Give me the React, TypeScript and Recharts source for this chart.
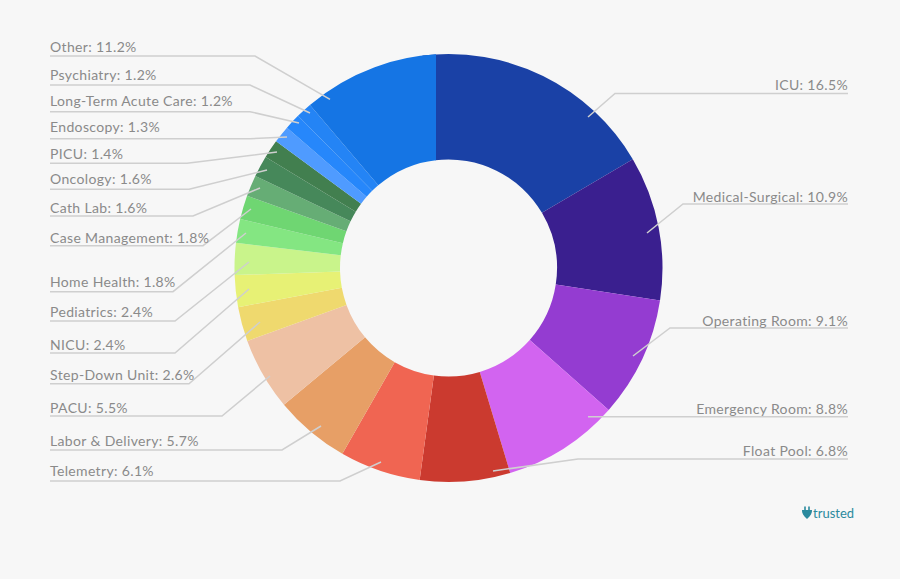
import React from "react";
import { PieChart, Pie, Sector } from "recharts";

const categories = ["ICU","Medical-Surgical","Operating Room","Emergency Room","Float Pool","Telemetry","Labor & Delivery","PACU","Step-Down Unit","NICU","Pediatrics","Home Health","Case Management","Cath Lab","Oncology","PICU","Endoscopy","Long-Term Acute Care","Psychiatry","Other"];
const shares = [16.5,10.9,9.1,8.8,6.8,6.1,5.7,5.5,2.6,2.4,2.4,1.8,1.8,1.6,1.6,1.4,1.3,1.2,1.2,11.2];
const colors = ["#1a41a6","#3a1f8f","#943cd1","#d264f0","#cb3a2f","#f06552","#e79f66","#eec1a4","#efd96e","#e7f175","#c9f48b","#84e682","#6fd672","#66ad75","#46885a","#427f4f","#4f9bff","#2687fb","#2484f5","#1575e4"];

// Annotation layout: [slice x, slice y, elbow x, rule y, far x, text centre y]
const leaders: number[][] = [
  [588,117,615,93.5,848,84],
  [647,233,683,204,848,196],
  [633,356,670,328,848,320],
  [588,416.7,588,416.7,848,408],
  [493,471,578,459,848,450],
  [381,462,340,481,50,470],
  [321,426,282,450,50,440],
  [270,376,222,416,50,407],
  [260,322,189,383.7,50,374.5],
  [249,289,175,353,50,344],
  [249,262,175,321,50,311.5],
  [246,233,173,291.7,50,281],
  [251,209,203,245.7,50,237],
  [260,188,193,216,50,207],
  [267,170,189,189.3,50,178],
  [277,152,187,163.3,50,153],
  [287,137,250,138.7,50,126],
  [299,123,250,111.7,50,100],
  [310,113,250,85,50,74],
  [330,99.3,255,56,50,46],
];

const rows = categories.map((name, i) => ({ name, value: shares[i], fill: colors[i] }));
const CX = 448.5, CY = 268, SEAM_X = 436, LAST = categories.length - 1;
const FONT = "Lato, sans-serif";

function Slice(p: any) {
  const { index, cx, cy, innerRadius, outerRadius, startAngle, endAngle, fill } = p;
  const common = { cx, cy, innerRadius, outerRadius, fill, stroke: "none" };
  if (index === 0) return <Sector {...common} startAngle={startAngle + 7} endAngle={endAngle} />;
  if (index === LAST) return (
    <g>
      <defs><clipPath id="seamClip"><rect x={0} y={0} width={SEAM_X} height={579} /></clipPath></defs>
      <g clipPath="url(#seamClip)"><Sector {...common} startAngle={startAngle} endAngle={endAngle} /></g>
    </g>
  );
  return <Sector {...common} startAngle={startAngle} endAngle={endAngle} />;
}

function Callout(p: any) {
  const i = p.index;
  const [sx, sy, ex, ry, fx, ty] = leaders[i];
  const right = fx > sx;
  return (
    <g>
      <polyline points={`${sx},${sy} ${ex},${ry} ${fx},${ry}`} fill="none" stroke="#cfcfcf" strokeWidth={1.5} />
      <text x={fx} y={ty} textAnchor={right ? "end" : "start"} dominantBaseline="central" fontFamily={FONT} fontSize={14} fill="#8a8a8a" letterSpacing={0.35}>
        {`${categories[i]}: ${shares[i].toFixed(1)}%`}
      </text>
    </g>
  );
}

export default function App() {
  return (
    <div style={{ position: "fixed", inset: 0, background: "#f7f7f7", overflow: "hidden" }}>
      <div style={{ position: "absolute", left: 0, top: 0, width: 900, height: 579 }}>
        <PieChart width={900} height={579} margin={{ top: 0, right: 0, bottom: 0, left: 0 }}>
          <Pie data={rows} dataKey="value" nameKey="name" cx={CX} cy={CY} innerRadius={108.5} outerRadius={214}
            startAngle={90} endAngle={-270} paddingAngle={0} stroke="none" shape={Slice} label={Callout} labelLine={false} isAnimationActive={false} />
        </PieChart>
        <svg width={12} height={14} viewBox="0 0 12 14" style={{ position: "absolute", left: 801, top: 506 }}>
          <path d="M1 4h10c.3 3-1.5 6-5 9C2.500 10 .7 7 1 4z" fill="#2b8a9e" />
          <rect x={3.2} y={0.5} width={1.6} height={4} fill="#2b8a9e" />
          <rect x={7.2} y={0.5} width={1.6} height={4} fill="#2b8a9e" />
        </svg>
        <div style={{ position: "absolute", left: 813, top: 505, fontFamily: FONT, fontSize: 13, lineHeight: "16px", color: "#2b8a9e" }}>trusted</div>
      </div>
    </div>
  );
}
